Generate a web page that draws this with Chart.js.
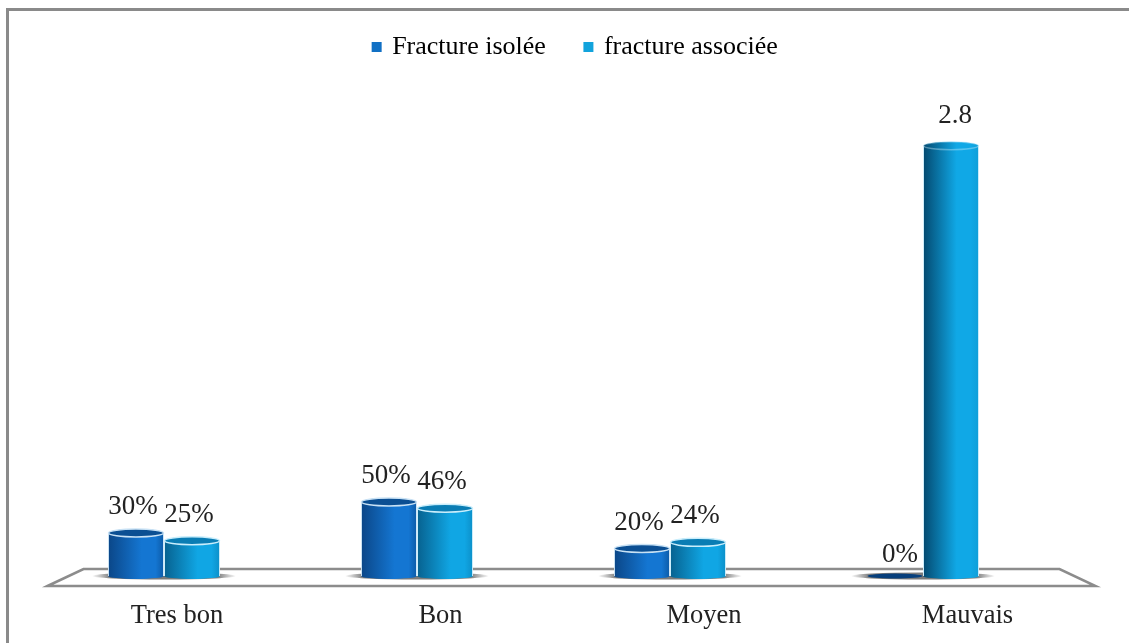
<!DOCTYPE html>
<html>
<head>
<meta charset="utf-8">
<script src="https://cdn.jsdelivr.net/npm/chart.js@4"></script>
<style>
  html, body { margin: 0; padding: 0; background: #fff; overflow: hidden; }
  #wrap { position: relative; width: 1129px; height: 643px; }
  #frame { position: absolute; left: 6px; top: 8px; width: 1123px; height: 635px; box-sizing: border-box;
           border-left: 3px solid #8a8a8a; border-top: 3px solid #8a8a8a; }
  canvas { position: absolute; left: 0; top: 0; }
</style>
</head>
<body>
<div id="wrap">
  <div id="frame"></div>
  <canvas id="chart" width="1129" height="643"></canvas>
</div>
<script>
const categories = ['Tres bon', 'Bon', 'Moyen', 'Mauvais'];
const isolee = [0.30, 0.50, 0.20, 0];
const associee = [0.25, 0.46, 0.24, 2.8];
const isoleeLabels = ['30%', '50%', '20%', '0%'];
const associeeLabels = ['25%', '46%', '24%', '2.8'];

const SERIF = '"Liberation Serif", serif';
const GROUP_WIDTH = 0.443;
// the floor hides the first few pixels of each cylinder
const AXIS_MIN = 0.0225;

const darkStops = ['#0b4687', '#1476d2', '#0c5aa6'];
const lightStops = ['#07618f', '#10a6e4', '#0c8fc8'];
const tallStops = ['#04496f', '#10a8e6', '#0f9ed8'];

function barGradient(ctx, left, width, stops) {
  const g = ctx.createLinearGradient(left, 0, left + width, 0);
  g.addColorStop(0, stops[0]);
  g.addColorStop(0.6, stops[1]);
  g.addColorStop(0.85, stops[1]);
  g.addColorStop(1, stops[2]);
  return g;
}

function stopsFor(datasetIndex, value) {
  if (value > 1) return tallStops;
  return datasetIndex === 0 ? darkStops : lightStops;
}

// worked out from the scale, the bar element has no x yet when options resolve
function cylinderFill(c) {
  const x = c.chart.scales.x;
  if (!x || c.dataIndex === undefined) return '#1476d2';
  const w = (x.getPixelForValue(1) - x.getPixelForValue(0)) * GROUP_WIDTH / 2;
  const mid = x.getPixelForValue(c.dataIndex);
  const stops = stopsFor(c.datasetIndex, c.raw);
  return barGradient(c.chart.ctx, c.datasetIndex === 0 ? mid - w : mid, w, stops);
}

// floor, shadows and axis labels are drawn under / around the bars
const stagePlugin = {
  id: 'stage',
  afterLayout(chart) {
    // the legend sits right of the page centre and higher than its padding gives
    chart.legend.left += 32.5;
    chart.legend.right += 32.5;
    chart.legend.top -= 6;
    chart.legend.bottom -= 6;
  },
  beforeDatasetsDraw(chart) {
    const { ctx, chartArea: a } = chart;
    ctx.save();
    ctx.strokeStyle = '#8c8c8c';
    ctx.lineWidth = 2.5;
    ctx.beginPath();
    ctx.moveTo(a.left + 10, a.bottom + 10);
    ctx.lineTo(a.left + 46, a.bottom - 7);
    ctx.lineTo(a.right + 10, a.bottom - 7);
    ctx.lineTo(a.right + 46, a.bottom + 10);
    ctx.closePath();
    ctx.stroke();
    // soft shadow below each bar group
    chart.data.labels.forEach((_, i) => {
      const b0 = chart.getDatasetMeta(0).data[i];
      const b1 = chart.getDatasetMeta(1).data[i];
      const x0 = b0.x - b0.width / 2 - 16;
      const x1 = b1.x + b1.width / 2 + 16;
      const mid = (x0 + x1) / 2;
      const g = ctx.createLinearGradient(x0, 0, x1, 0);
      g.addColorStop(0, 'rgba(90,90,90,0)');
      g.addColorStop(0.13, 'rgba(90,90,90,0.8)');
      g.addColorStop(0.87, 'rgba(90,90,90,0.8)');
      g.addColorStop(1, 'rgba(90,90,90,0)');
      ctx.fillStyle = g;
      ctx.beginPath();
      ctx.ellipse(mid, a.bottom, (x1 - x0) / 2, 3.5, 0, 0, Math.PI * 2);
      ctx.fill();
    });
    ctx.restore();
  },
  afterDatasetsDraw(chart) {
    const { ctx } = chart;
    ctx.save();
    const sets = [
      { labels: isoleeLabels, cap: '#0b4f93', rim: '#c9e2f5' },
      { labels: associeeLabels, cap: '#0a7db4', rim: '#c9eefc' }
    ];
    sets.forEach((s, d) => {
      chart.getDatasetMeta(d).data.forEach((bar, i) => {
        const rx = bar.width / 2;
        const value = chart.data.datasets[d].data[i];
        const flat = value === 0;
        const tall = value > 1;
        const base = chart.chartArea.bottom;
        const top = Math.min(bar.y, base);
        const stops = stopsFor(d, value);
        // round bottom of the cylinder
        if (!flat) {
          ctx.fillStyle = barGradient(ctx, bar.x - rx, bar.width, stops);
          ctx.beginPath();
          ctx.ellipse(bar.x, base, rx, 3, 0, 0, Math.PI);
          ctx.fill();
        }
        // top cap
        ctx.fillStyle = flat ? '#073f7c' : tall ? barGradient(ctx, bar.x - rx, bar.width, stops) : s.cap;
        ctx.strokeStyle = flat ? 'rgba(255,255,255,0)' : tall ? 'rgba(200,238,252,0.4)' : s.rim;
        ctx.lineWidth = 1.5;
        ctx.beginPath();
        ctx.ellipse(bar.x, top, rx - 0.5, flat ? 2.5 : 4, 0, 0, Math.PI * 2);
        ctx.fill();
        ctx.stroke();
        // value label
        ctx.fillStyle = '#222';
        ctx.font = '27px ' + SERIF;
        ctx.textAlign = 'center';
        ctx.textBaseline = 'middle';
        ctx.fillText(s.labels[i], bar.x + (flat ? 5 : tall ? 4 : -3), top - (flat ? 21 : tall ? 30 : 26));
      });
    });
    // axis labels run slightly right of their bars, as in a 3D floor
    ctx.font = '26.5px ' + SERIF;
    ctx.fillStyle = '#222';
    const xScale = chart.scales.x;
    chart.data.labels.forEach((lab, i) => {
      ctx.fillText(lab, xScale.getPixelForTick(i) + 13 + i * 10.5, 616);
    });
    ctx.restore();
  }
};

new Chart(document.getElementById('chart'), {
  type: 'bar',
  data: {
    labels: categories,
    datasets: [
      { label: 'Fracture isolée', data: isolee, base: AXIS_MIN, backgroundColor: cylinderFill, borderWidth: 1, borderColor: '#cfe6f6' },
      { label: 'fracture associée', data: associee, base: AXIS_MIN, backgroundColor: cylinderFill, borderWidth: 1, borderColor: '#cfeefb' }
    ]
  },
  options: {
    responsive: false,
    animation: false,
    layout: { padding: { left: 37.5, right: 79.5, top: 0, bottom: 59 } },
    datasets: { bar: { barPercentage: 1, categoryPercentage: GROUP_WIDTH } },
    scales: {
      x: { grid: { display: false }, border: { display: false }, ticks: { display: false } },
      y: { display: false, min: AXIS_MIN, max: 3.25 }
    },
    plugins: {
      tooltip: { enabled: false },
      legend: {
        position: 'top',
        labels: {
          usePointStyle: true,
          pointStyle: 'rect',
          boxWidth: 5,
          boxHeight: 10,
          padding: 40,
          color: '#222',
          font: { family: SERIF, size: 26 },
          generateLabels(chart) {
            return chart.data.datasets.map((ds, i) => ({
              text: ds.label,
              fillStyle: i === 0 ? '#1170c4' : '#12a3dc',
              strokeStyle: 'rgba(0,0,0,0)',
              lineWidth: 0,
              pointStyle: 'rect',
              datasetIndex: i
            }));
          }
        }
      }
    }
  },
  plugins: [stagePlugin]
});
</script>
</body>
</html>
